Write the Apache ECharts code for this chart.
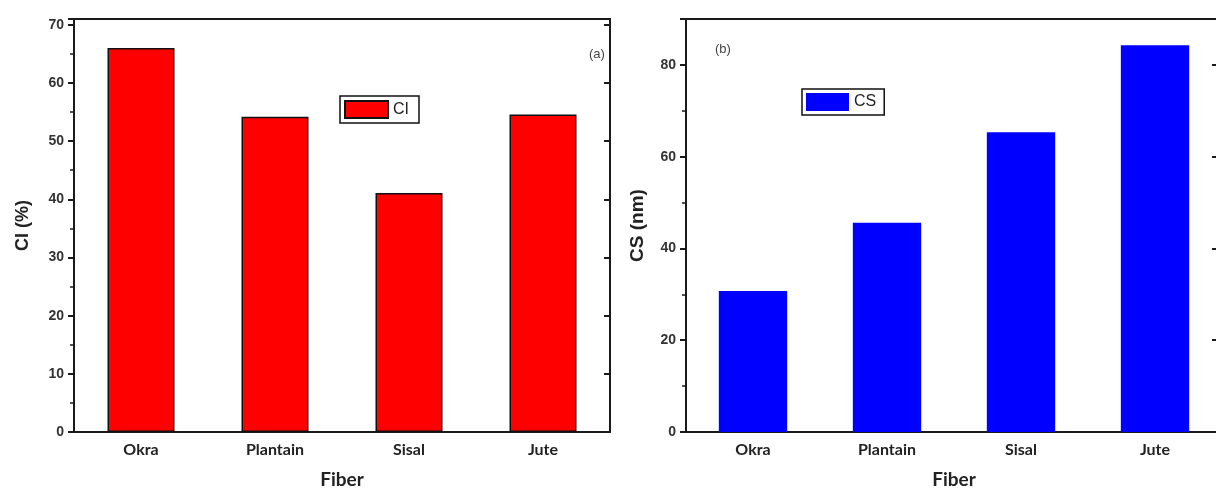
<!DOCTYPE html>
<html>
<head>
<meta charset="utf-8">
<script src="https://cdn.jsdelivr.net/npm/echarts@6/dist/echarts.min.js"></script>
<style>
html,body{margin:0;padding:0;background:#fff;}
#c{width:1216px;height:490px;}
</style>
</head>
<body>
<div id="c"></div>
<script>
const categories = ['Okra', 'Plantain', 'Sisal', 'Jute'];
const ciValues = [66.0, 54.2, 41.1, 54.6];
const csValues = [30.7, 45.6, 65.3, 84.3];
const ciTicks = { min: 0, max: 71, interval: 10 };
const csTicks = { min: 0, max: 90, interval: 20 };

const AX = '#1a1a1a';
const tickFont = { fontFamily: 'Liberation Sans, Arial, sans-serif', fontWeight: 'bold', fontSize: 14, color: '#333' };
const catFont = { fontFamily: 'Lato, "Open Sans", sans-serif', fontWeight: 'bold', fontSize: 16, color: '#222' };

function xAxesFor(gi) {
  return [
    { type: 'category', gridIndex: gi, data: categories, position: 'bottom',
      axisLine: { lineStyle: { color: AX, width: 2 } },
      axisTick: { alignWithLabel: true, length: 7, lineStyle: { color: AX, width: 2 } },
      axisLabel: Object.assign({ margin: 10 }, catFont),
      name: 'Fiber', nameLocation: 'middle', nameGap: 38,
      nameTextStyle: { fontFamily: 'Lato, "Open Sans", sans-serif', fontWeight: 'bold', fontSize: 19, color: '#222' } },
    { type: 'category', gridIndex: gi, data: categories, position: 'bottom',
      axisLine: { show: false },
      axisTick: { length: 4, lineStyle: { color: AX, width: 2 } },
      axisLabel: { show: false } },
    { type: 'category', gridIndex: gi, data: categories, position: 'top',
      axisLine: { lineStyle: { color: AX, width: 2 } },
      axisTick: { inside: true, length: 4, lineStyle: { color: AX, width: 2 } },
      axisLabel: { show: false } },
    { type: 'category', gridIndex: gi, data: categories, position: 'top',
      axisLine: { show: false },
      axisTick: { inside: true, alignWithLabel: true, length: 6, lineStyle: { color: AX, width: 2 } },
      axisLabel: { show: false } }
  ];
}

function yAxesFor(gi, t, name, gap, nameSize, rightTickLen) {
  return [
    { type: 'value', gridIndex: gi, position: 'left', min: t.min, max: t.max, interval: t.interval,
      splitLine: { show: false },
      axisLine: { show: true, lineStyle: { color: AX, width: 2 } },
      axisTick: { show: true, length: 6, lineStyle: { color: AX, width: 2 } },
      minorTick: { show: true, splitNumber: 2, length: 4, lineStyle: { color: AX, width: 1.5 } },
      axisLabel: Object.assign({ showMaxLabel: false, margin: 10,
        formatter: v => (v % t.interval === 0 ? String(v) : '') }, tickFont),
      name: name, nameLocation: 'middle', nameGap: gap,
      nameTextStyle: { fontFamily: 'Liberation Sans, Arial, sans-serif', fontWeight: 'bold', fontSize: nameSize, color: '#222' } },
    { type: 'value', gridIndex: gi, position: 'right', min: t.min, max: t.max, interval: t.interval,
      splitLine: { show: false },
      axisLine: { show: true, lineStyle: { color: AX, width: 2 } },
      axisTick: { show: true, inside: true, length: rightTickLen, lineStyle: { color: AX, width: 2 } },
      minorTick: { show: false },
      axisLabel: { show: false } }
  ];
}

const chart = echarts.init(document.getElementById('c'), null, { renderer: 'canvas' });
chart.setOption({
  animation: false,
  backgroundColor: '#fff',
  grid: [
    { left: 74, top: 19, width: 536, height: 413, outerBoundsMode: 'none', containLabel: false },
    { left: 686, top: 19, width: 536, height: 413, outerBoundsMode: 'none', containLabel: false }
  ],
  title: [
    { text: '(a)', left: 584, top: 43, textStyle: { fontFamily: 'Liberation Sans, Arial, sans-serif', fontWeight: 'normal', fontSize: 13, color: '#444' } },
    { text: '(b)', left: 710, top: 38, textStyle: { fontFamily: 'Liberation Sans, Arial, sans-serif', fontWeight: 'normal', fontSize: 13, color: '#444' } }
  ],
  legend: [
    { data: ['CI'], left: 340, top: 96, orient: 'horizontal', itemWidth: 43, itemHeight: 17, itemGap: 4, icon: 'rect',
      padding: [4, 10, 4, 4], borderColor: '#111', borderWidth: 1.5, backgroundColor: '#fff',
      textStyle: { fontFamily: 'Liberation Sans, Arial, sans-serif', fontSize: 16, color: '#222' } },
    { data: ['CS'], left: 802, top: 89, orient: 'horizontal', itemWidth: 43, itemHeight: 18, itemGap: 4, icon: 'rect',
      padding: [4, 8, 4, 4], borderColor: '#111', borderWidth: 1.5, backgroundColor: '#fff',
      textStyle: { fontFamily: 'Liberation Sans, Arial, sans-serif', fontSize: 16, color: '#222' } }
  ],
  xAxis: xAxesFor(0).concat(xAxesFor(1)),
  yAxis: yAxesFor(0, ciTicks, 'CI (%)', 42, 18, 6).concat(yAxesFor(1, csTicks, 'CS (nm)', 39, 19, 10)),
  series: [
    { name: 'CI', type: 'bar', xAxisIndex: 0, yAxisIndex: 0, data: ciValues, barWidth: '50%',
      itemStyle: { color: '#ff0000', borderColor: '#111', borderWidth: 1.5 } },
    { name: 'CS', type: 'bar', xAxisIndex: 4, yAxisIndex: 2, data: csValues, barWidth: '51%',
      itemStyle: { color: '#0000ff', borderColor: '#111', borderWidth: 0 } }
  ]
});
</script>
</body>
</html>
